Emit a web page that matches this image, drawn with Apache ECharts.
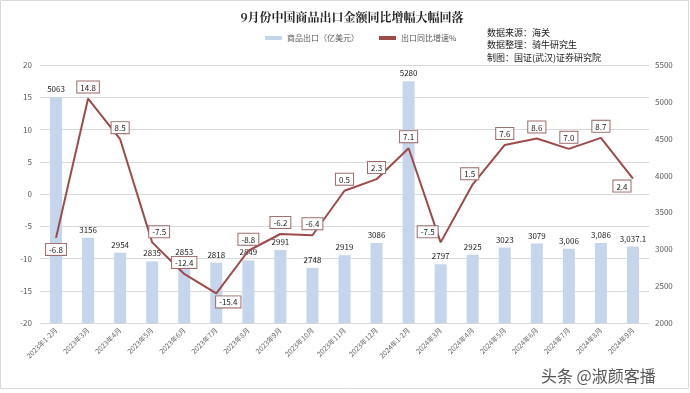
<!DOCTYPE html>
<html><head><meta charset="utf-8">
<script src="https://cdn.jsdelivr.net/npm/echarts@6/dist/echarts.min.js"></script>
<style>html,body{margin:0;padding:0;background:#fff}#c{width:690px;height:393px}</style>
</head><body><div id="c"></div>
<script>
const categories = ['2023年1-2月','2023年3月','2023年4月','2023年5月','2023年6月','2023年7月','2023年8月','2023年9月','2023年10月','2023年11月','2023年12月','2024年1-2月','2024年3月','2024年4月','2024年5月','2024年6月','2024年7月','2024年8月','2024年9月'];
const exportValue = [5063,3156,2954,2835,2853,2818,2849,2991,2748,2919,3086,5280,2797,2925,3023,3079,3006,3086,3037.1];
const exportYoY = [-6.8,14.8,8.5,-7.5,-12.4,-15.4,-8.8,-6.2,-6.4,0.5,2.3,7.1,-7.5,1.5,7.6,8.6,7.0,8.7,2.4];
const leftTicks = [-20,-15,-10,-5,0,5,10,15,20];
const rightTicks = [2000,2500,3000,3500,4000,4500,5000,5500];
// label placement for the line labels (style only)
const lineLabelPlace = ['b','t','t','tr','t','br','t','t','t','t','t','t','tl','tl2','t','t','t','t','bl'];

const placeMap = {
  t:{position:'top',offset:[0,-1]},
  b:{position:'bottom',offset:[0,1]},
  tr:{position:'top',offset:[7,0]},
  tl:{position:'top',offset:[-13,0]},
  tl2:{position:'top',offset:[-3,0]},
  br:{position:'bottom',offset:[12,-2]},
  bl:{position:'bottom',offset:[-11,-3]}
};
const lineData = exportYoY.map((v,i)=>({value:v,label:placeMap[lineLabelPlace[i]]}));

const chart = echarts.init(document.getElementById('c'));
const font = '"Microsoft YaHei","Noto Sans CJK SC",sans-serif';
chart.setOption({
  animation:false,
  textStyle:{fontFamily:font},
  title:{text:'9月份中国商品出口金额同比增幅大幅回落',left:347,top:6,textAlign:'center',
    textStyle:{fontSize:12,fontWeight:'bold',color:'#222',fontFamily:'"Noto Serif CJK SC","Noto Sans CJK SC",serif'}},
  legend:{left:260,top:29,itemGap:20,itemWidth:17,itemHeight:4,
    textStyle:{fontSize:8,color:'#595959'},
    data:[{name:'商品出口（亿美元）',icon:'rect'},{name:'出口同比增速%',icon:'rect',itemStyle:{color:'#9e4a49'}}]},
  grid:{left:40,right:41,top:65,bottom:70,containLabel:false},
  xAxis:{type:'category',data:categories,
    axisLine:{show:false},axisTick:{show:false},
    axisLabel:{rotate:45,fontSize:7,color:'#666',interval:0,margin:6}},
  yAxis:[
    {type:'value',min:-20,max:20,interval:5,position:'left',
      axisLine:{show:false},axisTick:{show:false},
      axisLabel:{fontSize:8,color:'#595959',margin:8},
      splitLine:{lineStyle:{color:'#d9d9d9',width:1}}},
    {type:'value',min:2000,max:5500,interval:500,position:'right',
      axisLine:{show:false},axisTick:{show:false},
      axisLabel:{fontSize:8,color:'#595959',margin:6,formatter:v=>String(v)},
      splitLine:{show:false}}
  ],
  series:[
    {name:'商品出口（亿美元）',type:'bar',yAxisIndex:1,data:exportValue,barWidth:12,
      itemStyle:{color:'#c5d6ec'},
      label:{show:true,position:'top',distance:4,fontSize:8,color:'#222',
        formatter:p=>p.dataIndex>=16?Number(p.value).toLocaleString('en-US'):String(p.value)}},
    {name:'出口同比增速%',type:'line',yAxisIndex:0,data:lineData,symbol:'circle',symbolSize:0.1,showSymbol:true,z:5,
      lineStyle:{color:'#9e4a49',width:2},itemStyle:{color:'#9e4a49'},
      label:{show:true,fontSize:8,color:'#222',backgroundColor:'#fff',borderColor:'#9b6a69',borderWidth:1,
        padding:[2,3,1,3],distance:5,formatter:p=>Number(p.value).toFixed(1)}}
  ],
  graphic:[
    {type:'rect',shape:{x:0.5,y:0.5,width:688,height:388},style:{fill:'none',stroke:'#d8d8d8',lineWidth:1},silent:true},
    {type:'text',left:487,top:26,style:{text:'数据来源：海关\n数据整理：骑牛研究生\n制图：国证(武汉)证券研究院',fontSize:9,lineHeight:12.5,fill:'#222',fontFamily:font}},
    {type:'text',left:540,top:367,style:{text:'头条 @淑颜客播',fontSize:16,fill:'#555',stroke:'#fff',lineWidth:2,fontFamily:font}}
  ]
});
</script></body></html>
